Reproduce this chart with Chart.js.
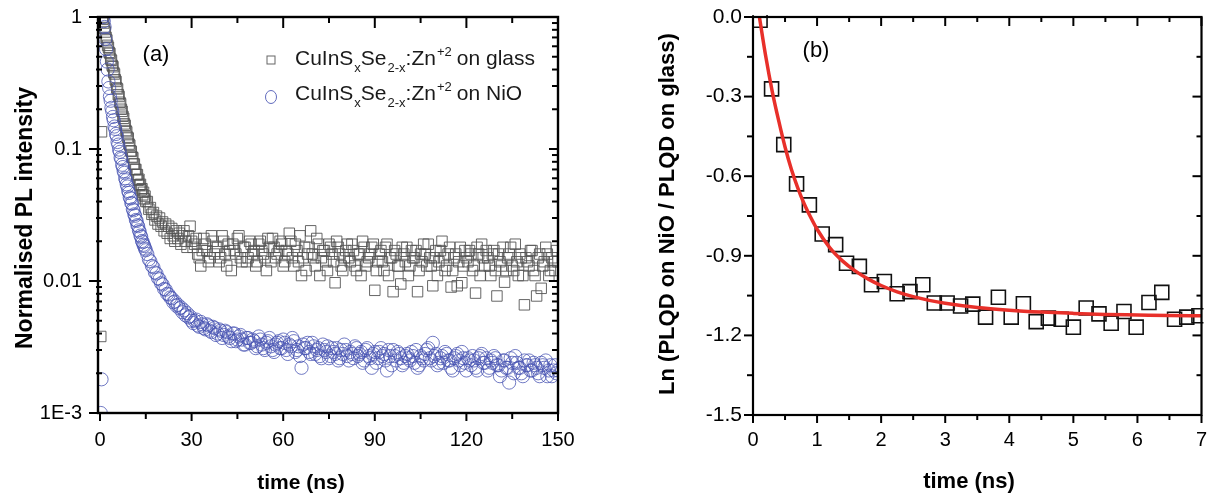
<!DOCTYPE html>
<html>
<head>
<meta charset="utf-8">
<script src="https://cdn.jsdelivr.net/npm/chart.js@4.4.1/dist/chart.umd.min.js"></script>
<style>
  html, body { margin: 0; padding: 0; background: #fff; }
  #wrap { position: relative; width: 1213px; height: 494px; overflow: hidden; background: #fff; }
  canvas { position: absolute; top: 0; }
  #chartA { left: 0; }
  #chartB { left: 610px; }
</style>
</head>
<body>
<div id="wrap">
  <canvas id="chartA" width="610" height="494"></canvas>
  <canvas id="chartB" width="603" height="494"></canvas>
</div>
<script>
const FONT = "'Liberation Sans', Arial, sans-serif";

// ---------- panel (a): normalised PL decay ----------
const timeA = [
  0,0.25,0.5,0.75,1,1.25,1.5,1.75,2,2.25,2.5,2.75,3,3.25,3.5,3.75,4,4.25,4.5,4.75,
  5,5.25,5.5,5.75,6,6.25,6.5,6.75,7,7.25,7.5,7.75,8,8.25,8.5,8.75,9,9.25,9.5,9.75,
  10,10.25,10.5,10.75,11,11.25,11.5,11.75,12,12.25,12.5,12.75,13,13.25,13.5,13.75,14,14.25,14.5,14.75,15,
  15.5,16,16.5,17,17.5,18,18.5,19,19.5,20,20.5,21,21.5,22,22.5,23,23.5,24,24.5,25,
  25.5,26,26.5,27,27.5,28,28.5,29,29.5,30,
  31,32,33,34,35,36,37,38,39,40,41,42,43,44,45,46,47,48,49,50,
  51,52,53,54,55,56,57,58,59,60,61,62,63,64,65,66,67,68,69,70,
  71,72,73,74,75,76,77,78,79,80,81,82,83,84,85,86,87,88,89,90,
  91,92,93,94,95,96,97,98,99,100,101,102,103,104,105,106,107,108,109,110,
  111,112,113,114,115,116,117,118,119,120,121,122,123,124,125,126,127,128,129,130,
  131,132,133,134,135,136,137,138,139,140,141,142,143,144,145,146,147,148,149,150
];

// CuInSxSe2-x:Zn+2 on glass (squares)
const plGlass = [
  null,0.0038,0.135,1.0,0.96,0.90,0.82,0.77,0.70,0.67,0.61,0.59,0.54,0.53,0.48,0.47,0.43,0.42,0.38,0.37,
  0.335,0.325,0.29,0.285,0.258,0.25,0.226,0.22,0.20,0.193,0.177,0.171,0.155,0.151,0.138,0.135,0.123,0.121,0.109,0.107,
  0.097,0.096,0.087,0.086,0.077,0.077,0.070,0.070,0.064,0.064,0.058,0.059,0.053,0.054,0.049,0.050,0.045,0.047,0.042,0.044,0.040,
  0.040,0.035,0.036,0.032,0.033,0.029,0.031,0.027,0.030,0.026,0.028,0.024,0.027,0.023,0.026,0.021,0.025,0.022,0.020,0.024,
  0.021,0.023,0.019,0.022,0.024,0.020,0.018,0.022,0.026,0.020,
  0.019,0.016,0.013,0.021,0.017,0.015,0.020,0.018,0.014,0.022,0.016,0.019,0.012,0.017,0.021,0.015,0.018,0.014,0.020,0.016,
  0.013,0.019,0.017,0.015,0.021,0.014,0.018,0.016,0.020,0.013,0.017,0.023,0.015,0.019,0.014,0.011,0.018,0.016,0.024,0.015,
  0.021,0.011,0.017,0.014,0.019,0.016,0.0097,0.018,0.013,0.015,0.019,0.014,0.017,0.012,0.016,0.020,0.013,0.015,0.018,0.0085,
  0.014,0.017,0.012,0.019,0.015,0.0083,0.016,0.013,0.018,0.014,0.011,0.017,0.015,0.0083,0.016,0.019,0.013,0.015,0.0092,0.017,
  0.014,0.020,0.012,0.016,0.0090,0.015,0.0092,0.018,0.013,0.015,0.017,0.012,0.0081,0.016,0.019,0.013,0.015,0.011,0.017,0.0077,
  0.014,0.018,0.012,0.016,0.013,0.019,0.011,0.015,0.0066,0.014,0.017,0.012,0.0077,0.016,0.013,0.018,0.011,0.015,0.012,0.014
];

// CuInSxSe2-x:Zn+2 on NiO (circles)
const plNiO = [
  null,0.001,0.0018,null,1.0,0.93,0.84,0.68,0.57,0.46,0.40,0.325,0.29,0.25,0.232,0.205,0.193,0.175,0.165,0.148,
  0.142,0.130,0.125,0.113,0.108,0.099,0.095,0.086,0.084,0.076,0.073,0.068,0.066,0.060,0.058,0.054,0.052,0.048,0.0465,0.043,
  0.0422,0.039,0.0385,0.035,0.0343,0.032,0.0312,0.029,0.0285,0.0265,0.026,0.0242,0.0236,0.0221,0.0216,0.0201,0.0197,0.0188,0.0184,0.0176,0.0171,
  0.0160,0.0146,0.0141,0.0130,0.0127,0.0116,0.0114,0.0105,0.0103,0.0096,0.0094,0.0087,0.0086,0.0080,0.0079,0.0075,0.0074,0.0069,0.0070,0.0065,
  0.0066,0.0062,0.0063,0.0058,0.0060,0.0055,0.0057,0.0053,0.0054,0.0050,
  0.0050,0.0046,0.0049,0.0044,0.0047,0.0042,0.0045,0.0039,0.0043,0.0037,0.0042,0.0038,0.0035,0.0040,0.0036,0.0039,0.0033,0.0037,0.0034,0.0036,
  0.0031,0.0038,0.0033,0.0030,0.0035,0.0032,0.0029,0.0034,0.0031,0.0036,0.0030,0.0033,0.0037,0.0029,0.0032,0.0022,0.0031,0.0034,0.0028,0.0032,
  0.0030,0.0027,0.0033,0.0029,0.0026,0.0031,0.0028,0.0025,0.0030,0.0033,0.0027,0.0029,0.0026,0.0031,0.0028,0.0024,0.0030,0.0027,0.0022,0.0029,
  0.0026,0.0031,0.0028,0.0021,0.0027,0.0030,0.0025,0.0028,0.0023,0.0027,0.0026,0.0029,0.0024,0.0022,0.0027,0.0025,0.0030,0.0026,0.0034,0.0028,
  0.0024,0.0027,0.0029,0.0025,0.0022,0.0026,0.0028,0.0023,0.0026,0.0021,0.0025,0.0027,0.0022,0.0026,0.0028,0.0024,0.0021,0.0025,0.0027,0.0023,
  0.0019,0.0025,0.0022,0.0017,0.0024,0.0027,0.0022,0.0020,0.0025,0.0023,0.0021,0.0024,0.0022,0.0019,0.0023,0.0025,0.0021,0.0019,0.0023,0.0021
];

// the half-nanosecond channels of the tail (30.5 ... 149.5 ns)
const timeHalf = [
  30.5,31.5,32.5,33.5,34.5,35.5,36.5,37.5,38.5,39.5,40.5,41.5,42.5,43.5,44.5,45.5,46.5,47.5,48.5,49.5,
  50.5,51.5,52.5,53.5,54.5,55.5,56.5,57.5,58.5,59.5,60.5,61.5,62.5,63.5,64.5,65.5,66.5,67.5,68.5,69.5,
  70.5,71.5,72.5,73.5,74.5,75.5,76.5,77.5,78.5,79.5,80.5,81.5,82.5,83.5,84.5,85.5,86.5,87.5,88.5,89.5,
  90.5,91.5,92.5,93.5,94.5,95.5,96.5,97.5,98.5,99.5,100.5,101.5,102.5,103.5,104.5,105.5,106.5,107.5,108.5,109.5,
  110.5,111.5,112.5,113.5,114.5,115.5,116.5,117.5,118.5,119.5,120.5,121.5,122.5,123.5,124.5,125.5,126.5,127.5,128.5,129.5,
  130.5,131.5,132.5,133.5,134.5,135.5,136.5,137.5,138.5,139.5,140.5,141.5,142.5,143.5,144.5,145.5,146.5,147.5,148.5,149.5
];
const glassHalf = [
  0.018,0.021,0.015,0.017,0.019,0.014,0.022,0.016,0.018,0.015,0.020,0.013,0.017,0.019,0.016,0.022,0.014,0.018,0.015,0.019,
  0.017,0.014,0.020,0.016,0.012,0.018,0.021,0.015,0.017,0.019,0.014,0.016,0.020,0.013,0.017,0.022,0.015,0.012,0.018,0.016,
  0.013,0.019,0.015,0.017,0.012,0.018,0.014,0.020,0.016,0.012,0.017,0.015,0.019,0.013,0.016,0.011,0.018,0.014,0.016,0.019,
  0.012,0.016,0.014,0.018,0.011,0.015,0.017,0.013,0.0095,0.016,0.018,0.013,0.015,0.017,0.012,0.014,0.016,0.019,0.013,0.015,
  0.011,0.017,0.015,0.013,0.018,0.012,0.016,0.014,0.0097,0.017,0.014,0.016,0.013,0.018,0.011,0.015,0.017,0.013,0.016,0.012,
  0.016,0.013,0.0098,0.015,0.018,0.012,0.014,0.016,0.011,0.015,0.013,0.017,0.011,0.015,0.0088,0.014,0.016,0.012,0.014,0.017
];
const nioHalf = [
  0.0048,0.0051,0.0045,0.0047,0.0043,0.0046,0.0041,0.0044,0.0040,0.0042,0.0039,0.0041,0.0037,0.0040,0.0035,0.0038,0.0036,0.0033,0.0037,0.0034,
  0.0035,0.0032,0.0036,0.0031,0.0034,0.0037,0.0030,0.0033,0.0035,0.0031,0.0034,0.0028,0.0032,0.0035,0.0030,0.0027,0.0033,0.0031,0.0029,0.0034,
  0.0028,0.0031,0.0026,0.0030,0.0032,0.0027,0.0029,0.0031,0.0026,0.0028,0.0030,0.0025,0.0028,0.0032,0.0027,0.0029,0.0025,0.0031,0.0026,0.0028,
  0.0024,0.0029,0.0027,0.0025,0.0030,0.0023,0.0027,0.0029,0.0026,0.0024,0.0028,0.0025,0.0027,0.0030,0.0023,0.0026,0.0028,0.0031,0.0025,0.0027,
  0.0023,0.0026,0.0024,0.0028,0.0025,0.0021,0.0027,0.0025,0.0029,0.0024,0.0026,0.0023,0.0025,0.0021,0.0027,0.0024,0.0026,0.0022,0.0024,0.0026,
  0.0023,0.0021,0.0025,0.0022,0.0026,0.0020,0.0024,0.0022,0.0019,0.0023,0.0025,0.0021,0.0023,0.0020,0.0024,0.0022,0.0019,0.0023,0.0021,0.0020
];

const xTicksA = [0, 30, 60, 90, 120, 150];
const yTicksA = [0.001, 0.01, 0.1, 1];
const yLabelsA = ['1E-3', '0.01', '0.1', '1'];

// ---------- panel (b): Ln ratio ----------
const timeB = [0.11,0.29,0.48,0.68,0.88,1.08,1.29,1.46,1.66,1.85,2.05,2.25,2.45,2.65,2.83,3.03,3.24,3.43,
  3.63,3.83,4.03,4.22,4.42,4.61,4.81,5.00,5.20,5.40,5.59,5.79,5.98,6.18,6.38,6.58,6.77,6.96];
const lnRatio = [-0.012,-0.271,-0.481,-0.629,-0.708,-0.818,-0.858,-0.928,-0.940,-1.009,-0.997,-1.043,-1.035,-1.009,-1.078,-1.078,-1.089,-1.082,
  -1.131,-1.056,-1.131,-1.081,-1.148,-1.135,-1.139,-1.169,-1.097,-1.119,-1.154,-1.110,-1.169,-1.076,-1.038,-1.139,-1.131,-1.126];
const fitT = [0.1,0.2,0.3,0.4,0.5,0.6,0.7,0.8,0.9,1.0,1.2,1.4,1.6,1.8,2.0,2.25,2.5,2.75,3.0,3.5,4.0,4.5,5.0,5.5,6.0,6.5,7.0];
const fitY = [0,-0.150,-0.280,-0.390,-0.490,-0.575,-0.645,-0.705,-0.755,-0.800,-0.870,-0.920,-0.958,-0.988,-1.012,-1.036,-1.054,-1.068,
  -1.079,-1.095,-1.105,-1.112,-1.117,-1.121,-1.123,-1.125,-1.126];

const xTicksB = [0, 1, 2, 3, 4, 5, 6, 7];
const yTicksB = [-1.5, -1.2, -0.9, -0.6, -0.3, 0];
const yLabelsB = ['-1.5', '-1.2', '-0.9', '-0.6', '-0.3', '0.0'];

// ---------- helpers ----------
function seg(ctx, x1, y1, x2, y2) {
  ctx.beginPath(); ctx.moveTo(x1, y1); ctx.lineTo(x2, y2); ctx.stroke();
}

function richText(ctx, parts, x, y, size) {
  parts.forEach(p => {
    const s = p[1] === 0 ? size : Math.round(size * 0.62);
    const dy = p[1] < 0 ? 7 : (p[1] > 0 ? -9 : 0);
    ctx.font = s + 'px ' + FONT;
    ctx.fillText(p[0], x, y + dy);
    x += ctx.measureText(p[0]).width + (p[2] || 0);
  });
}

function vTitle(ctx, text, x, y, size) {
  ctx.save();
  ctx.translate(x, y);
  ctx.rotate(-Math.PI / 2);
  ctx.font = 'bold ' + size + 'px ' + FONT;
  ctx.textAlign = 'center';
  ctx.textBaseline = 'alphabetic';
  ctx.fillText(text, 0, 0);
  ctx.restore();
}

function points(xs, ys) {
  return xs.map((t, i) => ({ x: t, y: ys[i] })).filter(p => p.y !== null);
}

// frame + inward/outward ticks, drawn through the chart's own scales
function makeDecor(cfg) {
  return {
    id: 'decor',
    afterDraw(chart) {
      const ctx = chart.ctx, a = chart.chartArea;
      const sx = chart.scales.x, sy = chart.scales.y;
      ctx.save();
      ctx.strokeStyle = '#000';
      ctx.lineWidth = cfg.frame;
      ctx.strokeRect(a.left, a.top, a.right - a.left, a.bottom - a.top);
      ctx.lineWidth = cfg.tick;
      cfg.xMajor.forEach(v => {
        const p = sx.getPixelForValue(v);
        seg(ctx, p, a.bottom, p, a.bottom + cfg.bMaj);
        seg(ctx, p, a.top, p, a.top + cfg.tMaj);
      });
      cfg.xMinor.forEach(v => {
        const p = sx.getPixelForValue(v);
        seg(ctx, p, a.bottom, p, a.bottom + cfg.bMin);
        seg(ctx, p, a.top, p, a.top + cfg.tMin);
      });
      cfg.yMajor.forEach(v => {
        const p = sy.getPixelForValue(v);
        seg(ctx, a.left - cfg.lMaj, p, a.left + cfg.lIn, p);
        seg(ctx, a.right - cfg.rMaj, p, a.right, p);
      });
      cfg.yMinor.forEach(v => {
        const p = sy.getPixelForValue(v);
        seg(ctx, a.left - cfg.lMin, p, a.left + cfg.lMinIn, p);
        seg(ctx, a.right - cfg.rMin, p, a.right, p);
      });
      ctx.fillStyle = '#000';
      cfg.text(ctx);
      ctx.restore();
    }
  };
}

function fixedAxis(size, vertical) {
  return function (s) {
    if (vertical) s.width = size; else s.height = size;
    s.paddingLeft = 0; s.paddingRight = 0; s.paddingTop = 0; s.paddingBottom = 0;
  };
}

// ---------- chart (a) ----------
const minorA = [];
[0.001, 0.01, 0.1].forEach(d => { for (let k = 2; k <= 9; k++) minorA.push(d * k); });

const NIO_COLOR = 'rgba(70,82,178,0.85)';
const GLASS_COLOR = 'rgba(85,85,85,0.9)';

new Chart(document.getElementById('chartA'), {
  type: 'scatter',
  data: {
    datasets: [
      {
        label: 'on NiO',
        data: points(timeA, plNiO).concat(points(timeHalf, nioHalf)),
        pointStyle: 'circle',
        pointRadius: 6.6,
        borderColor: NIO_COLOR,
        backgroundColor: 'rgba(0,0,0,0)',
        borderWidth: 0.9,
        clip: 0
      },
      {
        label: 'on glass',
        data: points(timeA, plGlass).concat(points(timeHalf, glassHalf)),
        pointStyle: 'rect',
        pointRadius: 7.4,
        borderColor: GLASS_COLOR,
        backgroundColor: 'rgba(0,0,0,0)',
        borderWidth: 1,
        clip: 0
      }
    ]
  },
  options: {
    responsive: false,
    animation: false,
    events: [],
    devicePixelRatio: 1,
    layout: { padding: { top: 17, right: 52, bottom: 0, left: 0 } },
    plugins: { legend: { display: false }, tooltip: { enabled: false } },
    scales: {
      x: {
        type: 'linear', min: -0.655, max: 150,
        afterFit: fixedAxis(81, false),
        afterBuildTicks: s => { s.ticks = xTicksA.map(v => ({ value: v })); },
        grid: { display: false, drawTicks: false },
        border: { display: false },
        ticks: { font: { family: FONT, size: 20 }, color: '#000', padding: 15, maxRotation: 0, autoSkip: false }
      },
      y: {
        type: 'logarithmic', min: 0.001, max: 1,
        afterFit: fixedAxis(98, true),
        afterBuildTicks: s => { s.ticks = yTicksA.map(v => ({ value: v })); },
        grid: { display: false, drawTicks: false },
        border: { display: false },
        ticks: {
          font: { family: FONT, size: 20 }, color: '#000', padding: 16, autoSkip: false,
          callback: (v, i) => yLabelsA[i]
        }
      }
    }
  },
  plugins: [makeDecor({
    frame: 2.4, tick: 2,
    xMajor: xTicksA, xMinor: [15, 45, 75, 105, 135],
    yMajor: yTicksA, yMinor: minorA,
    bMaj: 8, bMin: 6, tMaj: 11, tMin: 6,
    lMaj: 9, lIn: 3, lMin: 2, lMinIn: 4, rMaj: 9, rMin: 6,
    text(ctx) {
      vTitle(ctx, 'Normalised PL intensity', 32, 218, 23);
      ctx.font = 'bold 21px ' + FONT;
      ctx.textAlign = 'center';
      ctx.fillText('time (ns)', 301, 489);
      ctx.font = '22px ' + FONT;
      ctx.fillText('(a)', 156, 61);
      // legend
      ctx.textAlign = 'left';
      ctx.fillStyle = '#1a1a1a';
      richText(ctx, [['CuInS', 0, 1], ['x', -1], ['Se', 0, 1], ['2-x', -1], [':Zn', 0, 1], ['+2', 1, 5], ['on glass', 0]], 295, 65, 21);
      richText(ctx, [['CuInS', 0, 1], ['x', -1], ['Se', 0, 1], ['2-x', -1], [':Zn', 0, 1], ['+2', 1, 5], ['on NiO', 0]], 295, 100, 21);
      ctx.lineWidth = 1;
      ctx.strokeStyle = GLASS_COLOR;
      ctx.strokeRect(267, 56, 8, 8);
      ctx.strokeStyle = NIO_COLOR;
      ctx.beginPath();
      ctx.ellipse(271, 97, 5.5, 6.5, 0, 0, Math.PI * 2);
      ctx.stroke();
    }
  })]
});

// ---------- chart (b) ----------
new Chart(document.getElementById('chartB'), {
  type: 'scatter',
  data: {
    datasets: [
      {
        label: 'fit',
        data: points(fitT, fitY),
        showLine: true,
        pointRadius: 0,
        borderColor: '#e8302a',
        borderWidth: 3.5,
        cubicInterpolationMode: 'monotone',
        fill: false,
        clip: 0
      },
      {
        label: 'Ln ratio',
        data: points(timeB, lnRatio),
        pointStyle: 'rect',
        pointRadius: 9.9,
        borderColor: '#111',
        backgroundColor: 'rgba(0,0,0,0)',
        borderWidth: 1.6,
        clip: 2
      }
    ]
  },
  options: {
    responsive: false,
    animation: false,
    events: [],
    devicePixelRatio: 1,
    layout: { padding: { top: 17, right: 1, bottom: 0, left: 0 } },
    plugins: { legend: { display: false }, tooltip: { enabled: false } },
    scales: {
      x: {
        type: 'linear', min: 0, max: 7,
        afterFit: fixedAxis(79, false),
        afterBuildTicks: s => { s.ticks = xTicksB.map(v => ({ value: v })); },
        grid: { display: false, drawTicks: false },
        border: { display: false },
        ticks: { font: { family: FONT, size: 20 }, color: '#000', padding: 13, maxRotation: 0, autoSkip: false }
      },
      y: {
        type: 'linear', min: -1.5, max: 0,
        afterFit: fixedAxis(143, true),
        afterBuildTicks: s => { s.ticks = yTicksB.map(v => ({ value: v })); },
        grid: { display: false, drawTicks: false },
        border: { display: false },
        ticks: {
          font: { family: FONT, size: 21 }, color: '#000', padding: 11, autoSkip: false,
          callback: (v, i) => yLabelsB[i]
        }
      }
    }
  },
  plugins: [makeDecor({
    frame: 2.2, tick: 2,
    xMajor: xTicksB, xMinor: [0.5, 1.5, 2.5, 3.5, 4.5, 5.5, 6.5],
    yMajor: yTicksB, yMinor: [-1.35, -1.05, -0.75, -0.45, -0.15],
    bMaj: 8, bMin: 5, tMaj: 9, tMin: 5,
    lMaj: 9, lIn: 0, lMin: 6, lMinIn: 0, rMaj: 9, rMin: 5,
    text(ctx) {
      vTitle(ctx, 'Ln (PLQD on NiO / PLQD on glass)', 64, 214, 22);
      ctx.font = 'bold 22px ' + FONT;
      ctx.textAlign = 'center';
      ctx.fillText('time (ns)', 359, 488);
      ctx.font = '22px ' + FONT;
      ctx.fillText('(b)', 206, 57);
    }
  })]
});
</script>
</body>
</html>
